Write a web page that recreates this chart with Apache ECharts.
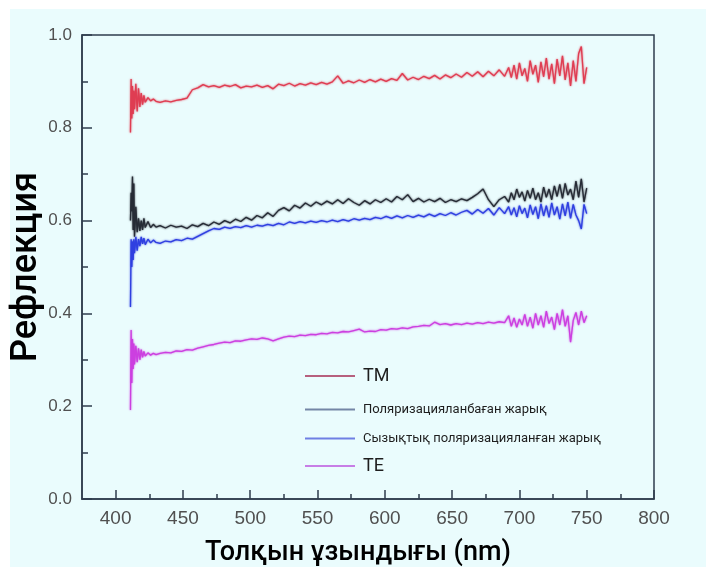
<!DOCTYPE html>
<html>
<head>
<meta charset="utf-8">
<script src="https://cdn.jsdelivr.net/npm/echarts@6/dist/echarts.min.js"></script>
<style>
html,body{margin:0;padding:0;background:#ffffff;}
#c{width:706px;height:575px;}
</style>
</head>
<body>
<div id="c"></div>
<script>
// Wavelengths (nm)
var wavelength = [
  411, 411.5, 412, 412.5, 413, 413.5, 414, 415, 416, 417, 418, 419, 420, 421, 422, 424, 426, 428, 430,
  433, 437, 441, 445, 449, 453, 457, 461, 465, 469, 473, 477, 481, 485, 489, 493, 497, 501, 505, 509,
  513, 517, 521, 525, 529, 533, 537, 541, 545, 549, 553, 557, 561, 565, 569, 573, 577, 581, 585, 589,
  593, 597, 601, 605, 609, 613, 617, 621, 625, 629, 633, 637, 641, 645, 649, 653, 657, 661, 665, 669,
  673, 677, 681, 685, 689,
  692, 694, 696, 698, 700, 702, 704, 706, 708, 710, 712, 714, 716, 718, 720, 722, 724, 726, 728, 730,
  732, 734, 736, 738, 740, 742, 744, 746, 748, 750
];

// TM
var tmValues = [
  0.790, 0.905, 0.820, 0.890, 0.830, 0.880, 0.840, 0.895, 0.835, 0.885, 0.845, 0.875, 0.850, 0.870, 0.855, 0.865, 0.858, 0.862, 0.857,
  0.855, 0.858, 0.856, 0.859, 0.861, 0.864, 0.882, 0.886, 0.893, 0.888, 0.891, 0.887, 0.892, 0.889, 0.893, 0.886, 0.890, 0.888, 0.892, 0.887,
  0.891, 0.884, 0.894, 0.891, 0.896, 0.890, 0.895, 0.892, 0.897, 0.893, 0.898, 0.894, 0.899, 0.912, 0.896, 0.901, 0.897, 0.903, 0.898, 0.904,
  0.899, 0.905, 0.900, 0.906, 0.902, 0.917, 0.903, 0.909, 0.904, 0.911, 0.906, 0.913, 0.905, 0.914, 0.908, 0.916, 0.909, 0.919, 0.911, 0.921,
  0.910, 0.922, 0.912, 0.925, 0.911,
  0.930, 0.908, 0.935, 0.905, 0.940, 0.912, 0.928, 0.900, 0.945, 0.915, 0.935, 0.898, 0.942, 0.910, 0.950, 0.905, 0.938, 0.895, 0.948, 0.912,
  0.955, 0.903, 0.940, 0.890, 0.945, 0.900, 0.960, 0.975, 0.895, 0.930
];

// Unpolarized light
var unpolValues = [
  0.600, 0.660, 0.620, 0.695, 0.580, 0.680, 0.565, 0.630, 0.575, 0.605, 0.578, 0.600, 0.580, 0.605, 0.585, 0.598, 0.585, 0.592, 0.586,
  0.589, 0.584, 0.590, 0.586, 0.588, 0.583, 0.591, 0.587, 0.594, 0.589, 0.597, 0.592, 0.600, 0.595, 0.603, 0.598, 0.607, 0.601, 0.611, 0.606,
  0.617, 0.609, 0.622, 0.628, 0.621, 0.633, 0.627, 0.638, 0.631, 0.640, 0.634, 0.642, 0.636, 0.645, 0.637, 0.647, 0.639, 0.633, 0.643, 0.636,
  0.645, 0.639, 0.647, 0.640, 0.652, 0.645, 0.656, 0.641, 0.648, 0.640, 0.646, 0.641, 0.648, 0.639, 0.645, 0.641, 0.647, 0.643, 0.650, 0.658,
  0.668, 0.645, 0.630, 0.645, 0.652,
  0.640, 0.660, 0.645, 0.668, 0.650, 0.662, 0.642, 0.665, 0.648, 0.670, 0.645, 0.660, 0.640, 0.672, 0.650, 0.668, 0.645, 0.675, 0.652, 0.678,
  0.648, 0.680, 0.655, 0.668, 0.645, 0.685, 0.650, 0.690, 0.640, 0.670
];

// Linearly polarized light
var linpolValues = [
  0.414, 0.560, 0.500, 0.555, 0.515, 0.560, 0.530, 0.565, 0.535, 0.560, 0.545, 0.565, 0.550, 0.562, 0.548, 0.560, 0.552, 0.558, 0.553,
  0.551, 0.556, 0.554, 0.559, 0.557, 0.562, 0.560, 0.566, 0.572, 0.578, 0.583, 0.581, 0.586, 0.583, 0.587, 0.585, 0.589, 0.586, 0.590, 0.588,
  0.592, 0.589, 0.594, 0.591, 0.597, 0.594, 0.598, 0.595, 0.599, 0.596, 0.600, 0.597, 0.601, 0.598, 0.602, 0.599, 0.604, 0.601, 0.605, 0.602,
  0.607, 0.604, 0.609, 0.605, 0.610, 0.606, 0.611, 0.607, 0.612, 0.608, 0.614, 0.609, 0.615, 0.611, 0.617, 0.612, 0.618, 0.622, 0.614, 0.624,
  0.616, 0.626, 0.612, 0.628, 0.615,
  0.630, 0.612, 0.628, 0.608, 0.632, 0.615, 0.627, 0.606, 0.634, 0.613, 0.630, 0.604, 0.636, 0.610, 0.632, 0.607, 0.638, 0.612, 0.630, 0.603,
  0.636, 0.610, 0.640, 0.605, 0.635, 0.612, 0.600, 0.582, 0.635, 0.615
];

// TE
var teValues = [
  0.192, 0.364, 0.250, 0.345, 0.280, 0.335, 0.290, 0.330, 0.295, 0.325, 0.300, 0.322, 0.305, 0.318, 0.308, 0.315, 0.310, 0.314, 0.311,
  0.314, 0.316, 0.315, 0.319, 0.318, 0.322, 0.321, 0.325, 0.328, 0.331, 0.333, 0.336, 0.338, 0.337, 0.341, 0.340, 0.343, 0.345, 0.344, 0.347,
  0.345, 0.341, 0.345, 0.349, 0.351, 0.350, 0.353, 0.352, 0.355, 0.354, 0.357, 0.356, 0.359, 0.358, 0.361, 0.360, 0.363, 0.366, 0.360, 0.362,
  0.361, 0.365, 0.364, 0.367, 0.366, 0.369, 0.367, 0.371, 0.372, 0.374, 0.373, 0.381, 0.376, 0.378, 0.375, 0.378, 0.376, 0.379, 0.377, 0.380,
  0.378, 0.381, 0.379, 0.382, 0.380,
  0.395, 0.372, 0.390, 0.370, 0.388, 0.375, 0.398, 0.372, 0.392, 0.368, 0.400, 0.375, 0.395, 0.370, 0.405, 0.378, 0.392, 0.365, 0.400, 0.375,
  0.408, 0.372, 0.395, 0.338, 0.385, 0.402, 0.375, 0.405, 0.380, 0.395
];

var seriesNames = ['TM', 'Поляризацияланбаған жарық', 'Сызықтық поляризацияланған жарық', 'TE'];
var xMajorTicks = [400, 450, 500, 550, 600, 650, 700, 750, 800];
var xMinorTicks = [425, 475, 525, 575, 625, 675, 725, 775];

function pairs(vals) {
  return wavelength.map(function (w, i) { return [w, vals[i]]; });
}

var axisColor = '#2f3d4d';
var labelColor = '#505050';

var chart = echarts.init(document.getElementById('c'), null, { renderer: 'canvas' });

function legendBox(name, top, left, fontSize, iconColor) {
  return {
    data: [{ name: name, itemStyle: { color: iconColor } }],
    left: left,
    top: top,
    icon: 'rect',
    itemWidth: 50,
    itemHeight: 2,
    selectedMode: false,
    textStyle: { fontFamily: 'Roboto, "Noto Sans", sans-serif', fontSize: fontSize, color: '#1e1e1e', padding: [0, 0, 0, 3] }
  };
}

function lineStyle(color) {
  return { width: 1.3, shadowColor: color, shadowBlur: 2 };
}

var option = {
  animation: false,
  backgroundColor: '#ffffff',
  graphic: [{
    type: 'rect',
    silent: true,
    z: -10,
    shape: { x: 10, y: 9, width: 696, height: 558 },
    style: { fill: '#eafcfd' }
  }],
  legend: [
    legendBox(seriesNames[0], 362, 300, 18, '#b6607e'),
    legendBox(seriesNames[1], 398, 300, 13, '#7486a6'),
    legendBox(seriesNames[2], 427, 300, 13, '#6f7fe4'),
    legendBox(seriesNames[3], 452, 300, 18, '#c77ee6')
  ],
  grid: {
    left: 82, top: 35, width: 572, height: 464,
    outerBoundsMode: 'none',
    containLabel: false,
    show: true, borderColor: axisColor, borderWidth: 1.5, backgroundColor: 'transparent'
  },
  xAxis: [{
    type: 'value', min: 375, max: 800,
    name: 'Толқын ұзындығы (nm)',
    nameLocation: 'middle', nameGap: 41, nameMoveOverlap: false,
    nameTextStyle: { fontFamily: 'Roboto, "Noto Sans", sans-serif', fontSize: 27, fontWeight: 500, color: '#000', padding: [0, 20, 0, 0] },
    axisLine: { show: true, onZero: false, lineStyle: { color: axisColor, width: 1.5 } },
    axisTick: { show: true, inside: true, length: 9, customValues: xMajorTicks, lineStyle: { color: axisColor, width: 1.5 } },
    axisLabel: { customValues: xMajorTicks, margin: 10, fontSize: 19, color: labelColor, fontFamily: 'Liberation Sans, Arial, sans-serif' },
    splitLine: { show: false }
  }, {
    type: 'value', min: 375, max: 800, position: 'bottom', offset: 0,
    axisLine: { show: false },
    axisTick: { show: true, inside: true, length: 5, customValues: xMinorTicks, lineStyle: { color: axisColor, width: 1.5 } },
    axisLabel: { show: false },
    splitLine: { show: false }
  }],
  yAxis: {
    type: 'value', min: 0, max: 1, interval: 0.2,
    name: 'Рефлекция',
    nameLocation: 'middle', nameGap: 37, nameRotate: 90, nameMoveOverlap: false,
    nameTextStyle: { fontFamily: 'Roboto, "Noto Sans", sans-serif', fontSize: 36, fontWeight: 500, color: '#000' },
    axisLine: { show: true, lineStyle: { color: axisColor, width: 1.5 } },
    axisTick: { show: true, inside: true, length: 10, lineStyle: { color: axisColor, width: 1.5 } },
    minorTick: { show: true, splitNumber: 2, length: 6, lineStyle: { color: axisColor, width: 1.5 } },
    axisLabel: { margin: 10, fontSize: 17, color: labelColor, fontFamily: 'Liberation Sans, Arial, sans-serif',
      formatter: function (v) { return v.toFixed(1); } },
    splitLine: { show: false }
  },
  series: [
    { name: seriesNames[0], type: 'line', data: pairs(tmValues), showSymbol: false, color: '#df3d52', lineStyle: lineStyle('#df3d52') },
    { name: seriesNames[1], type: 'line', data: pairs(unpolValues), showSymbol: false, color: '#262b35', lineStyle: lineStyle('#262b35') },
    { name: seriesNames[2], type: 'line', data: pairs(linpolValues), showSymbol: false, color: '#2f3fe0', lineStyle: lineStyle('#2f3fe0') },
    { name: seriesNames[3], type: 'line', data: pairs(teValues), showSymbol: false, color: '#cc3fe0', lineStyle: lineStyle('#cc3fe0') }
  ]
};
chart.setOption(option);
</script>
</body>
</html>
